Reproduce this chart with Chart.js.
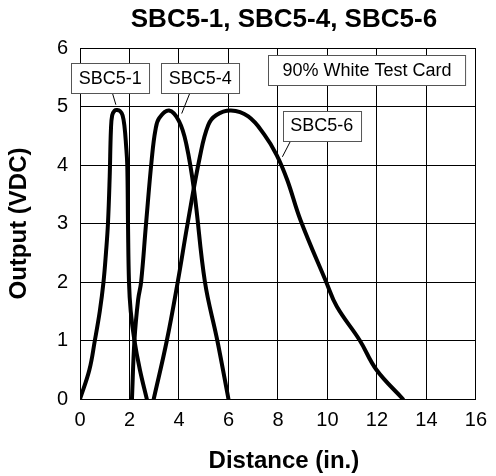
<!DOCTYPE html>
<html>
<head>
<meta charset="utf-8">
<script src="https://cdn.jsdelivr.net/npm/chart.js@4"></script>
<style>
  html, body { margin: 0; padding: 0; background: #fff; }
  #wrap { width: 496px; height: 476px; }
</style>
</head>
<body>
<div id="wrap"><canvas id="sensorChart" width="496" height="476"></canvas></div>
<script>
// Output vs distance readings
const sbc51X = [0, 0.38, 0.6, 0.8, 0.95, 1.05, 1.13, 1.2, 1.25, 1.3, 1.4, 1.5, 1.62, 1.72, 1.8, 1.86, 1.91, 1.94, 1.98, 2.05, 2.2, 2.42, 2.7];
const sbc51Y = [0, 0.5, 1, 1.5, 2, 2.5, 3, 3.8, 4.6, 4.85, 4.93, 4.94, 4.92, 4.85, 4.65, 4.35, 4.0, 3.0, 2.0, 1.5, 1.0, 0.5, 0];

const sbc54X = [2.1, 2.2, 2.35, 2.47, 2.67, 2.9, 3.05, 3.2, 3.6, 4.0, 4.3, 4.62, 5.05, 5.55, 6.0];
const sbc54Y = [0, 1.0, 1.7, 2.0, 3.0, 4.1, 4.6, 4.8, 4.93, 4.75, 4.35, 3.54, 2.0, 1.0, 0];

const sbc56X = [2.98, 3.51, 3.95, 4.35, 4.85, 5.18, 5.5, 6.1, 6.8, 7.45, 7.95, 8.38, 8.91, 9.95, 10.38, 11.31, 11.98, 13.05];
const sbc56Y = [0, 1.0, 2.0, 3.0, 4.15, 4.68, 4.85, 4.93, 4.83, 4.52, 4.17, 3.74, 3.06, 2.0, 1.58, 1.0, 0.5, 0];

const seriesNames = ['SBC5-1', 'SBC5-4', 'SBC5-6'];

function toPoints(xs, ys) {
    return xs.map(function(x, i) { return { x: x, y: ys[i] }; });
}

const FONT = "'Liberation Sans', Arial, Helvetica, sans-serif";

// Callout boxes, placed in data units (box centre + optional leader line)
const callouts = [
    { text: 'SBC5-1', cx: 1.22, cy: 5.48, lead: [1.31, 5.23, 1.45, 5.03] },
    { text: 'SBC5-4', cx: 4.86, cy: 5.49, lead: [4.45, 5.24, 4.11, 4.88] },
    { text: '90% White Test Card', cx: 11.6, cy: 5.63, padX: 14 },
    { text: 'SBC5-6', cx: 9.77, cy: 4.675, lead: [8.51, 4.41, 8.18, 4.14] }
];

const labelsPlugin = {
    id: 'labels',
    afterDraw: function(chart) {
        const ctx = chart.ctx;
        const area = chart.chartArea;
        const xs = chart.scales.x, ys = chart.scales.y;
        ctx.save();

        // chart title and x-axis title, centred over the plot area
        ctx.fillStyle = '#000';
        ctx.textAlign = 'center';
        ctx.textBaseline = 'alphabetic';
        ctx.font = 'bold 26px ' + FONT;
        ctx.fillText('SBC5-1, SBC5-4, SBC5-6', (area.left + area.right) / 2 + 6, 27);
        ctx.font = 'bold 24px ' + FONT;
        ctx.fillText('Distance (in.)', (area.left + area.right) / 2 + 6, 468);

        ctx.font = '18px ' + FONT;
        callouts.forEach(function(c) {
            if (c.lead) {
                ctx.beginPath();
                ctx.strokeStyle = '#000';
                ctx.lineWidth = 1;
                ctx.moveTo(xs.getPixelForValue(c.lead[0]), ys.getPixelForValue(c.lead[1]));
                ctx.lineTo(xs.getPixelForValue(c.lead[2]), ys.getPixelForValue(c.lead[3]));
                ctx.stroke();
            }
            const w = ctx.measureText(c.text).width + 2 * (c.padX || 7.5);
            const h = 30;
            const px = xs.getPixelForValue(c.cx), py = ys.getPixelForValue(c.cy);
            const l = Math.round(px - w / 2) + 0.5, t = Math.round(py - h / 2) + 0.5;
            ctx.fillStyle = '#fff';
            ctx.fillRect(l, t, w, h);
            ctx.strokeStyle = '#555';
            ctx.lineWidth = 1;
            ctx.strokeRect(l, t, w, h);
            ctx.fillStyle = '#000';
            ctx.textAlign = 'center';
            ctx.textBaseline = 'middle';
            ctx.fillText(c.text, px, py + 1);
        });
        ctx.restore();
    }
};

const lineStyle = {
    showLine: true,
    borderColor: '#000',
    borderWidth: 4,
    pointRadius: 0,
    fill: false,
    tension: 0.4,
    borderCapStyle: 'round',
    borderJoinStyle: 'round'
};

new Chart(document.getElementById('sensorChart').getContext('2d'), {
    type: 'scatter',
    data: {
        datasets: [
            Object.assign({ label: seriesNames[0], data: toPoints(sbc51X, sbc51Y) }, lineStyle),
            Object.assign({ label: seriesNames[1], data: toPoints(sbc54X, sbc54Y) }, lineStyle),
            Object.assign({ label: seriesNames[2], data: toPoints(sbc56X, sbc56Y) }, lineStyle)
        ]
    },
    options: {
        responsive: false,
        animation: false,
        layout: { padding: { left: 0, right: 16, top: 48, bottom: 0 } },
        plugins: {
            legend: { display: false },
            tooltip: { enabled: false },
            title: { display: false }
        },
        scales: {
            x: {
                type: 'linear',
                min: 0,
                max: 16,
                afterFit: function(scale) { scale.height = 77; },
                ticks: { stepSize: 2, color: '#000', padding: 9, font: { family: FONT, size: 20 } },
                grid: { color: '#000', lineWidth: 1, drawTicks: false },
                border: { color: '#000', width: 1 },
                title: { display: false }
            },
            y: {
                type: 'linear',
                min: 0,
                max: 6,
                afterFit: function(scale) { scale.width = 80; },
                ticks: { stepSize: 1, color: '#000', padding: 12, font: { family: FONT, size: 20 } },
                grid: { color: '#000', lineWidth: 1, drawTicks: false },
                border: { color: '#000', width: 1 },
                title: {
                    display: true,
                    text: 'Output (VDC)',
                    color: '#000',
                    font: { family: FONT, size: 24, weight: 'bold' },
                    padding: { top: 5, bottom: 0 }
                }
            }
        }
    },
    plugins: [labelsPlugin]
});
</script>
</body>
</html>
